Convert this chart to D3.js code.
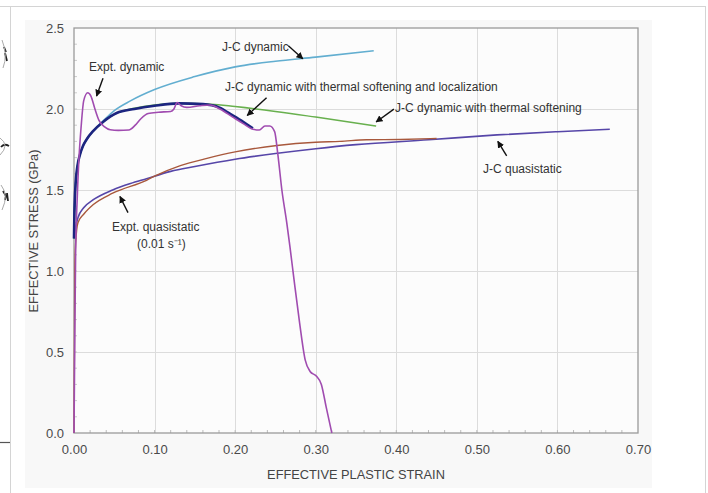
<!DOCTYPE html>
<html><head><meta charset="utf-8">
<script src="https://cdn.jsdelivr.net/npm/d3@7"></script>
<style>body{margin:0;background:#fff}svg{display:block;font-family:Arial,"Liberation Sans",sans-serif}</style>
</head><body>
<script>
// ---- data ----
const xTicks = [0, 0.1, 0.2, 0.3, 0.4, 0.5, 0.6, 0.7];
const yTicks = [0, 0.5, 1.0, 1.5, 2.0, 2.5];
const xTitle = "EFFECTIVE PLASTIC STRAIN";
const yTitle = "EFFECTIVE STRESS (GPa)";

const jcDynamic = [[0,1.2],[0.0005,1.36],[0.001,1.44],[0.002,1.54],[0.004,1.64],[0.0075,1.72],[0.011,1.77],[0.016,1.815],[0.024,1.865],[0.036,1.925],[0.05,1.99],[0.07,2.05],[0.1,2.12],[0.15,2.2],[0.2,2.26],[0.25,2.295],[0.3,2.32],[0.372,2.36]];
const jcThermal = [[0,1.2],[0.0005,1.36],[0.001,1.44],[0.002,1.54],[0.004,1.64],[0.0075,1.72],[0.011,1.77],[0.016,1.815],[0.024,1.865],[0.036,1.92],[0.053,1.975],[0.075,2.005],[0.1,2.025],[0.13,2.035],[0.17,2.03],[0.2,2.015],[0.25,1.985],[0.3,1.95],[0.375,1.895]];
const jcLocal = [[0,1.2],[0.0005,1.36],[0.001,1.44],[0.002,1.54],[0.004,1.64],[0.0075,1.72],[0.011,1.77],[0.016,1.815],[0.024,1.865],[0.036,1.92],[0.053,1.975],[0.075,2.0],[0.1,2.02],[0.13,2.035],[0.16,2.03],[0.18,2.01],[0.197,1.96],[0.21,1.92],[0.222,1.88]];
const exptDynamic = [[0,0],[0.001,0.6],[0.002,1.1],[0.004,1.45],[0.006,1.68],[0.009,1.9],[0.012,2.05],[0.017,2.1],[0.021,2.08],[0.026,2.0],[0.031,1.93],[0.038,1.89],[0.045,1.872],[0.055,1.868],[0.068,1.87],[0.076,1.9],[0.083,1.94],[0.092,1.972],[0.105,1.98],[0.12,1.985],[0.124,2.0],[0.128,2.04],[0.133,2.02],[0.14,2.01],[0.156,2.02],[0.169,2.025],[0.181,2.0],[0.197,1.95],[0.21,1.91],[0.222,1.875],[0.23,1.87],[0.237,1.895],[0.243,1.895],[0.249,1.86],[0.253,1.72],[0.258,1.5],[0.264,1.3],[0.268,1.15],[0.273,0.95],[0.28,0.68],[0.287,0.45],[0.293,0.38],[0.301,0.35],[0.307,0.3],[0.313,0.16],[0.32,0]];
const exptQuasi = [[0,0],[0.0005,0.5],[0.001,1.0],[0.002,1.17],[0.005,1.3],[0.012,1.35],[0.024,1.41],[0.048,1.48],[0.09,1.56],[0.1,1.585],[0.132,1.65],[0.165,1.695],[0.2,1.735],[0.252,1.775],[0.3,1.795],[0.33,1.8],[0.363,1.81],[0.405,1.812],[0.45,1.818]];
const jcQuasi = [[0,1.2],[0.002,1.27],[0.005,1.33],[0.012,1.39],[0.024,1.44],[0.048,1.5],[0.07,1.54],[0.09,1.57],[0.12,1.615],[0.15,1.645],[0.2,1.69],[0.25,1.725],[0.3,1.755],[0.35,1.78],[0.44,1.81],[0.525,1.84],[0.6,1.86],[0.665,1.875]];

const series = [
  {name:"J-C quasistatic", data:jcQuasi, color:"#5646a8", w:1.6},
  {name:"Expt. quasistatic", data:exptQuasi, color:"#a8583c", w:1.4},
  {name:"J-C dynamic", data:jcDynamic, color:"#62aed0", w:1.6},
  {name:"J-C dynamic with thermal softening", data:jcThermal, color:"#68b04e", w:1.5},
  {name:"J-C dynamic with thermal softening and localization", data:jcLocal, color:"#1c2580", w:2.6},
  {name:"Expt. dynamic", data:exptDynamic, color:"#a04cb0", w:1.6}
];

// annotations: text lines, text position, arrow from (strain,stress)-tail to head
const annotations = [
  {lines:["J-C dynamic"], tx:222, ty:51, from:[0.266,2.39], to:[0.284,2.31]},
  {lines:["Expt. dynamic"], tx:89, ty:71, from:[0.036,2.19], to:[0.028,2.08]},
  {lines:["J-C dynamic with thermal softening and localization"], tx:225, ty:91, from:[0.239,2.07], to:[0.215,1.96]},
  {lines:["J-C dynamic with thermal softening"], tx:395, ty:112, from:[0.397,1.999], to:[0.375,1.92]},
  {lines:["J-C quasistatic"], tx:483, ty:173, from:[0.537,1.71], to:[0.526,1.80]},
  {lines:["Expt. quasistatic","(0.01 s\u207B\u00B9)"], tx:[112,137], ty:[231,248], from:[0.067,1.36], to:[0.057,1.46]}
];

const W = 708, H = 493;
const svg = d3.select("body").append("svg").attr("width", W).attr("height", H);

// page frame / scan artifacts
svg.append("rect").attr("x",25).attr("y",20).attr("width",627).attr("height",468).attr("fill","#f8f8f8");
const fr = svg.append("g").attr("stroke","#d4d4d4").attr("fill","none");
fr.append("line").attr("x1",0).attr("y1",6.5).attr("x2",705).attr("y2",6.5);
fr.append("line").attr("x1",10.5).attr("y1",7).attr("x2",10.5).attr("y2",493);
fr.append("line").attr("x1",705.5).attr("y1",6).attr("x2",705.5).attr("y2",493);
svg.append("line").attr("x1",0).attr("y1",442.5).attr("x2",10).attr("y2",442.5).attr("stroke","#555").attr("stroke-width",1.2);
const scr = svg.append("g").attr("fill","none").attr("stroke","#222").attr("stroke-width",1.8);
scr.append("path").attr("d","M4,47 L6,52 M5,53 L7,61");
scr.append("path").attr("d","M1,147 Q4,143 9,146");
scr.append("path").attr("d","M3,191 L6,196 L5,200 M7,193 L8,201");
const scg = svg.append("g").attr("fill","none").attr("stroke","#aaa").attr("stroke-width",1);
scg.append("path").attr("d","M2,40 Q8,55 3,68");
scg.append("path").attr("d","M0,138 Q10,145 0,155");
scg.append("path").attr("d","M1,185 Q9,195 2,210");

// scales
const x = d3.scaleLinear().domain([0,0.7]).range([74,638]);
const y = d3.scaleLinear().domain([0,2.5]).range([433,28]);

svg.append("rect").attr("x",x(0)).attr("y",y(2.5)).attr("width",x(0.7)-x(0)).attr("height",y(0)-y(2.5)).attr("fill","#fcfcfc");

// grid
const grid = svg.append("g").attr("stroke","#dcdcdc").attr("stroke-width",1);
grid.selectAll(".vx").data(xTicks.slice(1,-1)).join("line")
  .attr("x1",d=>Math.round(x(d))+0.5).attr("x2",d=>Math.round(x(d))+0.5).attr("y1",y(2.5)).attr("y2",y(0));
grid.selectAll(".hy").data(yTicks.slice(1,-1)).join("line")
  .attr("y1",d=>Math.round(y(d))+0.5).attr("y2",d=>Math.round(y(d))+0.5).attr("x1",x(0)).attr("x2",x(0.7));

// minor ticks
const minorX = d3.range(0.02, 0.7, 0.02);
svg.append("g").selectAll("line").data(minorX).join("line")
  .attr("x1",d=>x(d)).attr("x2",d=>x(d)).attr("y1",y(0)).attr("y2",y(0)-3)
  .attr("stroke","#bbb");
const minorY = d3.range(0.1, 2.5, 0.1);
svg.append("g").selectAll("line").data(minorY).join("line")
  .attr("y1",d=>y(d)).attr("y2",d=>y(d)).attr("x1",x(0)).attr("x2",x(0)+3)
  .attr("stroke","#ccc");

// axes
const xAxis = d3.axisBottom(x).tickValues(xTicks).tickFormat(d3.format(".2f")).tickSize(0).tickPadding(12);
const gx = svg.append("g").attr("transform",`translate(0,${y(0)})`).call(xAxis);
const yAxis = d3.axisLeft(y).tickValues(yTicks).tickFormat(d3.format(".1f")).tickSize(0).tickPadding(10);
const gy = svg.append("g").attr("transform",`translate(${x(0)},0)`).call(yAxis);
[gx,gy].forEach(g=>{
  g.select(".domain").remove();
  g.selectAll("text").attr("font-size",13).attr("fill","#4a4a4a").attr("font-family","Arial, 'Liberation Sans', sans-serif");
});

// border
svg.append("rect").attr("x",x(0)).attr("y",y(2.5)).attr("width",x(0.7)-x(0)).attr("height",y(0)-y(2.5))
  .attr("fill","none").attr("stroke","#9a9a9a").attr("stroke-width",1.3);

// axis titles
svg.append("text").attr("x",356).attr("y",479).attr("text-anchor","middle").attr("font-size",12.8).attr("fill","#444").text(xTitle);
svg.append("text").attr("transform","translate(38,231) rotate(-90)").attr("text-anchor","middle").attr("font-size",12.8).attr("fill","#444").text(yTitle);

// lines
const line = d3.line().x(d=>x(d[0])).y(d=>y(d[1])).curve(d3.curveMonotoneX);
svg.append("g").selectAll("path").data(series).join("path")
  .attr("d",d=>line(d.data)).attr("fill","none").attr("stroke",d=>d.color).attr("stroke-width",d=>d.w)
  .attr("stroke-linejoin","round");

// arrows
const defs = svg.append("defs");
defs.append("marker").attr("id","ah").attr("viewBox","0 0 10 10").attr("refX",9).attr("refY",5)
  .attr("markerWidth",7).attr("markerHeight",7).attr("orient","auto-start-reverse").attr("markerUnits","userSpaceOnUse")
  .append("path").attr("d","M0,0 L10,5 L0,10 z").attr("fill","#111");
const ann = svg.append("g");
annotations.forEach(a=>{
  ann.append("line").attr("x1",x(a.from[0])).attr("y1",y(a.from[1])).attr("x2",x(a.to[0])).attr("y2",y(a.to[1]))
    .attr("stroke","#111").attr("stroke-width",1.4).attr("marker-end","url(#ah)");
  a.lines.forEach((t,i)=>{
    const tx = Array.isArray(a.tx)?a.tx[i]:a.tx;
    const ty = Array.isArray(a.ty)?a.ty[i]:a.ty;
    ann.append("text").attr("x",tx).attr("y",ty).attr("font-size",12).attr("fill","#333").text(t);
  });
});
</script>
</body></html>
